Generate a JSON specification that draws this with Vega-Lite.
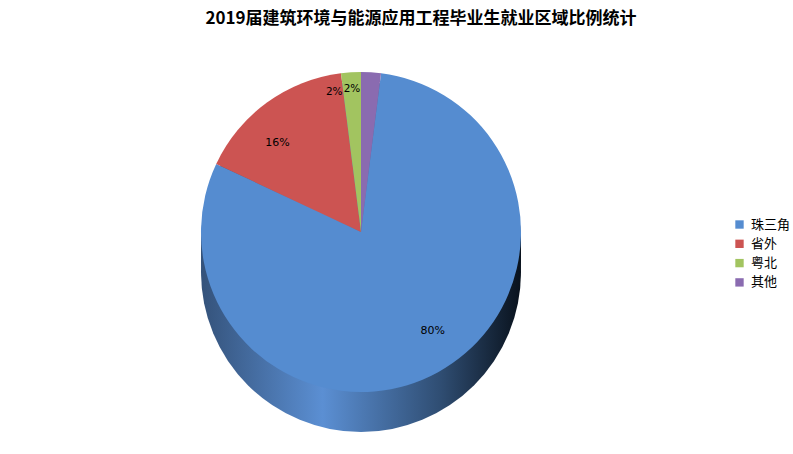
{
  "$schema": "https://vega.github.io/schema/vega-lite/v6.json",
  "width": 722,
  "height": 464,
  "autosize": "none",
  "padding": {"left": 0, "top": 0, "right": 71, "bottom": 0},
  "background": "white",
  "title": {
    "text": "2019届建筑环境与能源应用工程毕业生就业区域比例统计",
    "font": "Noto Sans CJK SC",
    "fontSize": 17,
    "fontWeight": "bold",
    "color": "#000000",
    "anchor": "middle",
    "orient": "top",
    "offset": 0,
    "dx": 60,
    "dy": 41,
    "baseline": "alphabetic"
  },
  "data": {
    "values": [
      {"区域": "珠三角", "比例": 0.80},
      {"区域": "省外", "比例": 0.16},
      {"区域": "粤北", "比例": 0.02},
      {"区域": "其他", "比例": 0.02}
    ]
  },
  "layer": [
    {
      "data": {"values": [{}]},
      "mark": {"type": "arc", "theta": 0, "theta2": 6.2832, "radius": 160, "yOffset": 40,
        "fill": {"gradient": "linear", "x1": 0, "y1": 0, "x2": 1, "y2": 0,
          "stops": [{"offset": 0, "color": "#34527a"}, {"offset": 0.38, "color": "#5b8fd3"}, {"offset": 0.75, "color": "#2f4d72"}, {"offset": 1, "color": "#09121d"}]}},
      "encoding": {}
    },
    {
      "data": {"values": [{}]},
      "mark": {"type": "arc", "theta": 0, "theta2": 6.2832, "radius": 160, "yOffset": 30,
        "fill": {"gradient": "linear", "x1": 0, "y1": 0, "x2": 1, "y2": 0,
          "stops": [{"offset": 0, "color": "#34527a"}, {"offset": 0.38, "color": "#5b8fd3"}, {"offset": 0.75, "color": "#2f4d72"}, {"offset": 1, "color": "#09121d"}]}},
      "encoding": {}
    },
    {
      "data": {"values": [{}]},
      "mark": {"type": "arc", "theta": 0, "theta2": 6.2832, "radius": 160, "yOffset": 20,
        "fill": {"gradient": "linear", "x1": 0, "y1": 0, "x2": 1, "y2": 0,
          "stops": [{"offset": 0, "color": "#34527a"}, {"offset": 0.38, "color": "#5b8fd3"}, {"offset": 0.75, "color": "#2f4d72"}, {"offset": 1, "color": "#09121d"}]}},
      "encoding": {}
    },
    {
      "data": {"values": [{}]},
      "mark": {"type": "arc", "theta": 0, "theta2": 6.2832, "radius": 160, "yOffset": 10,
        "fill": {"gradient": "linear", "x1": 0, "y1": 0, "x2": 1, "y2": 0,
          "stops": [{"offset": 0, "color": "#34527a"}, {"offset": 0.38, "color": "#5b8fd3"}, {"offset": 0.75, "color": "#2f4d72"}, {"offset": 1, "color": "#09121d"}]}},
      "encoding": {}
    },
    {
      "mark": {"type": "arc", "radius": 160, "stroke": null},
      "encoding": {
        "theta": {"field": "比例", "type": "quantitative", "stack": true},
        "color": {
          "field": "区域",
          "type": "nominal",
          "sort": ["珠三角", "省外", "粤北", "其他"],
          "scale": {"domain": ["珠三角", "省外", "粤北", "其他"], "range": ["#558cd0", "#cc5452", "#a2c460", "#8a6bb0"]},
          "legend": {
            "title": null,
            "orient": "none",
            "legendX": 733,
            "legendY": 218,
            "symbolType": "square",
            "symbolSize": 70,
            "symbolStrokeWidth": 0,
            "labelFont": "Noto Sans CJK SC",
            "labelFontSize": 13,
            "labelColor": "#000000",
            "rowPadding": 5.3,
            "labelOffset": 5
          }
        }
      }
    },
    {
      "transform": [
        {"stack": "比例", "groupby": [], "as": ["起", "止"]},
        {"calculate": "(datum['起'] + datum['止']) / 2", "as": "中"},
        {"filter": "datum['比例'] >= 0.1"}
      ],
      "mark": {"type": "text", "radius": 122, "font": "DejaVu Sans", "fontSize": 11, "color": "#000000"},
      "encoding": {
        "theta": {"field": "中", "type": "quantitative", "stack": null},
        "text": {"field": "比例", "type": "quantitative", "format": ".0%"}
      }
    },
    {
      "transform": [
        {"stack": "比例", "groupby": [], "as": ["起", "止"]},
        {"calculate": "(datum['起'] + datum['止']) / 2", "as": "中"},
        {"filter": "datum['比例'] < 0.1"}
      ],
      "mark": {"type": "text", "radius": 143, "font": "DejaVu Sans", "fontSize": 10.5, "color": "#000000"},
      "encoding": {
        "theta": {"field": "中", "type": "quantitative", "stack": null},
        "text": {"field": "比例", "type": "quantitative", "format": ".0%"}
      }
    }
  ]
}
